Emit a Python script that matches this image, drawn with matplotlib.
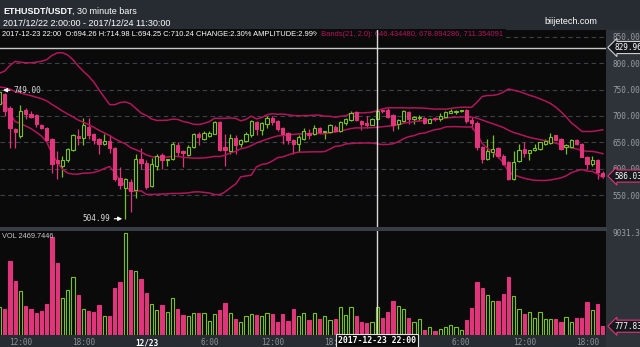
import numpy as np
import pandas as pd
import matplotlib
matplotlib.use('Agg')
import matplotlib.pyplot as plt
from matplotlib.patches import Rectangle
from matplotlib.transforms import blended_transform_factory

# ETHUSDT 30 minute bars (bar 0 = 12/22 10:00)
open_ = [722, 741, 715, 675, 662, 711, 704, 702, 683, 678, 656, 617, 606, 617, 636, 662, 658, 680, 666, 656,
         647, 653, 640, 583, 563, 574, 559, 619, 610, 567, 606, 626, 616, 619, 644, 633, 626, 641, 666, 657,
         662, 666, 688, 641, 633, 658, 646, 653, 663, 688, 674, 685, 697, 691, 677, 668, 655, 646, 657, 667,
         666, 677, 670, 669, 680, 672, 686, 693, 707, 691, 686, 683, 694.26, 711, 711, 701, 684, 691, 708, 695,
         697, 696, 687, 696, 694, 699, 706, 708, 709, 711, 692, 686, 641, 619, 632, 640, 625, 612, 581, 614,
         638, 630, 635, 638, 646, 649, 663, 656, 641, 641, 655, 647, 623, 608, 616, 592]
high = [749, 744, 719, 678, 720, 716, 710, 704, 685, 680, 658, 634, 625, 640, 666, 675, 697, 697, 668, 658,
        666, 663, 642, 603, 583, 580, 628, 640, 616, 621, 628, 629, 619, 650, 650, 636, 644, 667, 669, 672,
        671, 691, 690, 666, 666, 663, 657, 669, 692, 691, 688, 700, 700, 693, 679, 670, 657, 663, 677, 675,
        682, 680, 672, 684, 682, 690, 697, 710, 709, 693, 700, 697, 714.98, 714, 716, 703, 695, 712, 710, 700,
        702, 698, 697, 699, 705, 710, 713, 712, 712, 713, 698, 690, 643, 656, 663, 642, 627, 614, 633, 647,
        650, 636, 647, 651, 656, 667, 664, 658, 646, 656, 657, 648, 625, 625, 618, 596]
low = [718, 700, 640, 640, 659, 694, 697, 679, 675, 653, 591, 581, 584, 612, 633, 644, 644, 657, 647, 628,
       644, 630, 577, 562, 504.99, 518, 544, 600, 562, 566, 598, 600, 606, 617, 625, 604, 625, 640, 644, 655,
       660, 665, 634, 606, 628, 628, 641, 650, 660, 663, 663, 678, 682, 672, 647, 647, 628, 631, 655, 656,
       663, 666, 657, 667, 669, 670, 683, 691, 691, 674, 678, 682, 694.25, 706, 697, 671, 676, 689, 685, 685,
       691, 685, 686, 690, 691, 697, 705, 704, 708, 686, 676, 635, 611, 616, 622, 620, 607, 579, 579, 612,
       622, 617, 633, 636, 645, 647, 654, 636, 628, 640, 644, 622, 600, 606, 581, 582]
close = [746, 709, 677, 669, 710, 704, 699, 685, 677, 655, 609, 610, 617, 638, 663, 658, 682, 663, 655, 646,
         653, 640, 580, 569, 580, 557, 619, 610, 566, 609, 625, 617, 618, 646, 631, 629, 642, 666, 660, 668,
         668, 689, 635, 636, 658, 644, 655, 666, 690, 675, 686, 697, 688, 675, 666, 655, 646, 660, 672, 664,
         678, 669, 672, 682, 672, 688, 694, 705, 693, 685, 682, 694, 710.24, 709, 699, 682, 692, 709, 694, 698,
         699, 687, 695, 694, 700, 707, 709, 709, 711, 690, 686, 641, 619, 634, 638, 625, 609, 581, 613, 636,
         630, 635, 640, 650, 652, 660, 655, 638, 645, 655, 646, 623, 608, 616, 594, 586.03]
volume = [2500, 2300, 6520, 4810, 3865, 2600, 2300, 1980, 2150, 2740, 8640, 6340, 3270, 4010, 5100, 3570,
          2300, 2150, 2065, 2680, 1710, 1650, 4130, 4720, 9031.32, 5780, 5690, 4985, 3690, 2740, 2210, 2680,
          2065, 3300, 2330, 1740, 1710, 1950, 1980, 1950, 1270, 1860, 2240, 2800, 1920, 1450, 1150, 1710,
          1860, 1800, 1710, 1980, 1860, 1150, 1860, 1270, 2330, 1710, 1950, 1360, 1950, 1390, 1710, 1360,
          1420, 2500, 1770, 2450, 1650, 1120, 1060, 1150, 2469.7446, 1475, 2000, 3010, 2570, 2300, 1530, 1180,
          1390, 470, 680, 380, 530, 680, 860, 740, 470, 1360, 2360, 4660, 4130, 3540, 3040, 2980,
          3600, 5100, 3450, 2300, 1860, 2065, 1530, 2065, 1390, 1450, 1450, 1120, 1590, 1150, 1530, 1530,
          2950, 2210, 2740, 777.83]
# closes before the visible window, only used to warm up the 21 bar bands
warmup_close = [735, 742, 755, 768, 762, 750, 745, 738, 742, 748, 739,
                752, 760, 775, 785, 770, 758, 762, 768, 755]

tick_pos = [4, 16, 28, 40, 52, 64, 88, 100, 112]
tick_labels = ['12:00', '18:00', '12/23', '6:00', '12:00', '18:00', '6:00', '12:00', '18:00']
price_ticks = [550, 600, 650, 700, 750, 800, 850]
top_price = 829.96
cross_bar = 72
cross_label = '2017-12-23 22:00'
info_text = '2017-12-23 22:00  O:694.26 H:714.98 L:694.25 C:710.24 CHANGE:2.30% AMPLITUDE:2.99%'
bands_text = ' Bands(21, 2.0): 646.434480, 678.894286, 711.354091'

UP = '#78c11e'
DOWN = '#e0357b'
BAND = '#b3155b'
BG = '#0a0a0a'
GRAY = '#9a9ea3'
MONO = 'DejaVu Sans Mono'
SANS = 'Liberation Sans'

o = np.array(open_, float)
c = np.array(close, float)
x = np.arange(len(c))
up = c >= o
col = np.where(up, UP, DOWN)
face = np.where(up, BG, DOWN)

W, H = 640, 347
fig = plt.figure(figsize=(6.4, 3.47), dpi=100, facecolor='#272c33')

# pixel box measured from the top left -> figure rect
def box(x0, y0, x1, y1):
    return [x0 / W, 1 - y1 / H, (x1 - x0) / W, (y1 - y0) / H]

fig.add_artist(Rectangle((606 / W, 0), 34 / W, 1 - 30 / H, transform=fig.transFigure, color='#2e3339', zorder=-1))
fig.add_artist(Rectangle((0, 1 - 231 / H), 606 / W, 4 / H, transform=fig.transFigure, color='#383d44', zorder=-1))

ax = fig.add_axes(box(0, 30, 606, 227))
axv = fig.add_axes(box(0, 231, 606, 335))

# price panel
ax.set_facecolor(BG)
for s in ax.spines.values(): s.set_visible(False)
ax.set_xlim(0.11, 115.6)
ax.set_ylim(489.3, 863.2)
for p in price_ticks:
    ax.axhline(p, color='#3d424a', lw=0.8, ls=(0, (4, 3)), zorder=1)
ax.axhline(top_price, color='#c8c8c8', lw=1, zorder=1)

ax.vlines(x, low, high, colors=col, lw=0.9, zorder=2)
body = np.maximum(np.abs(c - o), 1.2)
ax.bar(x, body, bottom=np.minimum(o, c), width=0.62, color=face, edgecolor=col, linewidth=0.8, zorder=3)

# bollinger bands 21, 2.0
s = pd.Series(warmup_close + close, dtype=float)
mid = s.rolling(21).mean().values[len(warmup_close):]
sd = s.rolling(21).std(ddof=0).values[len(warmup_close):]
for line in (mid + 2 * sd, mid, mid - 2 * sd):
    ax.plot(x, line, color=BAND, lw=1.1, zorder=2.5)

ax.set_xticks([])
ax.yaxis.tick_right()
ax.set_yticks(price_ticks)
ax.set_yticklabels(['%.2f' % p for p in price_ticks], family=MONO)
ax.tick_params(axis='y', length=0, pad=4.5, labelsize=5.6, labelcolor=GRAY)

# info strip on top of the price panel
t_info = ax.text(0.003, 1 - 5 / 197, info_text, transform=ax.transAxes, va='center', ha='left',
                 size=5.4, color='white', family=SANS, zorder=4,
                 bbox=dict(boxstyle='square,pad=0.3', fc=BG, ec='none'))
ax.annotate(bands_text, xy=(1, 0.5), xycoords=t_info, va='center', ha='left', size=5.4,
            color=BAND, family=SANS, zorder=4, bbox=dict(boxstyle='square,pad=0.3', fc=BG, ec='none'))

# high / low markers
ax.annotate('%.2f' % high[0], xy=(0.68, high[0]), xytext=(2.75, high[0]), va='center', ha='left',
            size=5.6, color='#d8d8d8', family=MONO, zorder=4,
            arrowprops=dict(arrowstyle='-|>', color='white', lw=0.8, mutation_scale=6, shrinkA=1, shrinkB=0))
lo = int(np.argmin(low))
ax.annotate('%.2f' % low[lo], xy=(lo - 0.6, low[lo]), xytext=(lo - 2.9, low[lo]), va='center', ha='right',
            size=5.6, color='#d8d8d8', family=MONO, zorder=4,
            arrowprops=dict(arrowstyle='-|>', color='white', lw=0.8, mutation_scale=6, shrinkA=1, shrinkB=0))

# right side price tags
ax.annotate('%.2f' % top_price, xy=(1, top_price), xycoords=('axes fraction', 'data'), xytext=(6, 0),
            textcoords='offset points', va='center', ha='left', size=5.6, color='white', family=MONO,
            annotation_clip=False, bbox=dict(boxstyle='larrow,pad=0.2', fc='#15181c', ec='#d0d0d0', lw=0.8))
ax.annotate('%.2f' % close[-1], xy=(1, close[-1]), xycoords=('axes fraction', 'data'), xytext=(6, 0),
            textcoords='offset points', va='center', ha='left', size=5.6, color='white', family=MONO,
            annotation_clip=False, bbox=dict(boxstyle='larrow,pad=0.2', fc='#15181c', ec=DOWN, lw=0.8))

# volume panel
axv.set_facecolor(BG)
for s in axv.spines.values(): s.set_visible(False)
axv.set_xlim(0.11, 115.6)
axv.set_ylim(0, 9200)
axv.bar(x, volume, width=0.62, color=face, edgecolor=col, linewidth=0.8, zorder=3)
axv.yaxis.tick_right()
axv.set_yticks([max(volume)])
axv.set_yticklabels(['%.2f' % max(volume)], family=MONO)
axv.tick_params(axis='y', length=0, pad=4.5, labelsize=5.6, labelcolor=GRAY)
axv.text(0.004, 0.95, 'VOL %s' % volume[cross_bar], transform=axv.transAxes, va='center', ha='left',
         size=5.3, color='#c8c8c8', family=SANS, zorder=4)
axv.annotate('%.2f' % volume[-1], xy=(1, volume[-1]), xycoords=('axes fraction', 'data'), xytext=(6, 0),
             textcoords='offset points', va='center', ha='left', size=5.6, color='white', family=MONO,
             annotation_clip=False, bbox=dict(boxstyle='larrow,pad=0.2', fc='#15181c', ec=DOWN, lw=0.8))

axv.set_xticks(tick_pos)
axv.set_xticklabels(tick_labels, family=MONO)
axv.tick_params(axis='x', length=0, pad=2.5, labelsize=5.6, labelcolor='#8e9297')
for lab in axv.get_xticklabels():
    if '/' in lab.get_text():
        lab.set_color('white')
        lab.set_fontweight('bold')

# crosshair
ax.axvline(cross_bar, color='#d8d8d8', lw=1, zorder=6)
axv.axvline(cross_bar, color='#d8d8d8', lw=1, zorder=6)
tr = blended_transform_factory(axv.transData, axv.transAxes)
axv.text(cross_bar, -0.05, cross_label, transform=tr, ha='center', va='center', size=5.9,
         color='white', weight='bold', family=MONO, zorder=7,
         bbox=dict(boxstyle='square,pad=0.25', fc=BG, ec='#e0e0e0', lw=0.8))

# header
t1 = fig.text(3 / W, 1 - 11 / H, 'ETHUSDT/USDT', weight='bold', color='white', size=6.5,
              va='center', ha='left', family=SANS)
ax.annotate(', 30 minute bars', xy=(1, 0), xycoords=t1, va='bottom', ha='left', size=6.5,
            color='white', family=SANS, annotation_clip=False)
fig.text(3 / W, 1 - 23 / H, '2017/12/22 2:00:00 - 2017/12/24 11:30:00', color='white', size=6.5,
         va='center', ha='left', family=SANS)
fig.text(571 / W, 1 - 22 / H, 'biijetech.com', color='white', size=6.5, va='center', ha='center', family=SANS)

fig.savefig('out.png', dpi=100, facecolor=fig.get_facecolor())
